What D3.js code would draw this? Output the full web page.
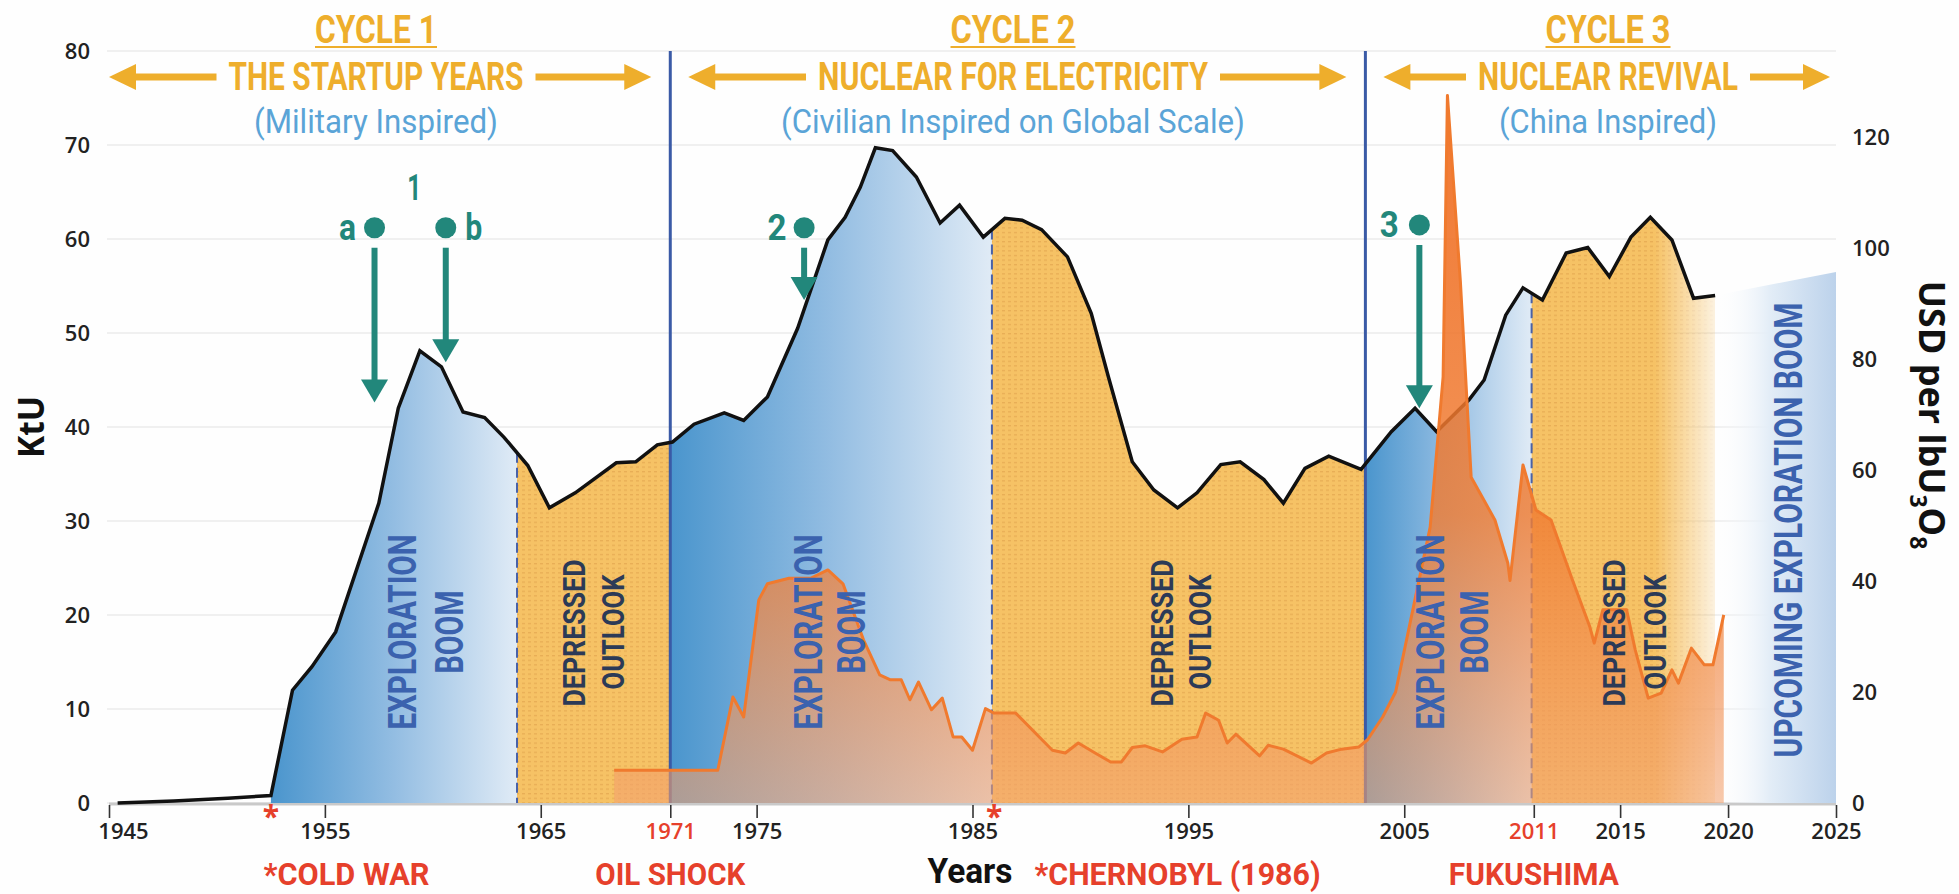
<!DOCTYPE html>
<html><head><meta charset="utf-8">
<script src="https://cdn.jsdelivr.net/npm/d3@7/dist/d3.min.js"></script>
<style>body{margin:0;background:#fff}svg{display:block}</style>
</head><body><svg id="c" width="1959" height="894"></svg>
<script>
// ---------------- DATA ----------------
const prodYears = [1945.4,1948,1950.5,1952.5,1953.5,1954.4,1955.5,1957.5,1958.4,1959.4,1960.4,1961.4,1962.4,1963.3,1964.4,1965.4,1966.6,1968.5,1969.4,1970.4,1971.1,1972.1,1973.5,1974.4,1975.5,1976.9,1978.3,1979.1,1979.8,1980.5,1981.3,1982.4,1983.5,1984.4,1985.5,1986.5,1987.3,1988.2,1989.4,1990.5,1991.3,1992.4,1993.4,1994.5,1995.4,1996.5,1997.4,1998.5,1999.4,2000.4,2001.5,2003.0,2004.4,2005.5,2006.5,2008.0,2008.7,2009.7,2010.5,2011.4,2012.5,2013.5,2014.5,2015.5,2016.4,2017.4,2018.4,2019.4];
const prodKtU = [0,0.2,0.5,0.8,12.0,14.5,18.2,31.9,42.0,48.1,46.4,41.6,41.0,38.9,35.9,31.4,33.0,36.2,36.3,38.1,38.4,40.3,41.5,40.7,43.2,50.5,59.9,62.3,65.5,69.7,69.4,66.6,61.7,63.6,60.2,62.2,62.0,61.0,58.1,52.1,45.3,36.3,33.3,31.4,33.0,36.0,36.3,34.4,31.9,35.6,36.9,35.5,39.5,42.0,39.5,42.9,45.0,51.9,54.8,53.5,58.5,59.1,56.0,60.2,62.3,59.9,53.7,54.0];
const priceYears = [1968.4,1973.2,1973.9,1974.4,1975.1,1975.5,1976.5,1977.5,1978.3,1979.0,1979.95,1980.7,1981.2,1981.7,1982.1,1982.5,1983.1,1983.6,1984.1,1984.5,1985.0,1985.6,1986.0,1987.0,1988.7,1989.3,1989.9,1990.6,1991.4,1991.9,1992.4,1993.0,1993.8,1994.7,1995.4,1995.8,1996.4,1996.8,1997.2,1998.3,1998.7,1999.4,2000.7,2001.4,2002.1,2002.9,2003.3,2004.0,2004.6,2005.3,2006.2,2006.8,2007.0,2007.6,2008.1,2008.5,2009.2,2009.8,2009.9,2010.5,2011.1,2011.8,2012.8,2013.6,2013.8,2014.2,2015.3,2015.7,2016.3,2016.9,2017.4,2017.7,2018.3,2018.9,2019.3,2019.8];
const priceUSD = [5.9,5.9,19.1,15.5,36.6,39.5,40.5,40.5,42.0,39.5,29.4,23.1,22.2,22.2,18.6,21.8,16.8,18.9,11.9,11.9,9.5,17.0,16.2,16.2,9.5,9.0,10.8,9.2,7.4,7.4,10.0,10.3,9.2,11.5,11.9,16.2,14.9,10.8,12.4,8.5,10.4,9.7,7.2,9.0,9.7,10.1,11.4,15.5,20.0,33.0,49.7,76.8,127.5,94.0,58.7,55.9,51.0,43.2,40.1,60.9,52.8,51.0,40.1,31.7,28.8,34.8,34.8,27.6,18.9,19.8,24.0,21.6,27.9,24.9,24.9,33.9];
const upcomingYears = [2019.4, 2025];
const upcomingKtU = [54.0, 56.5];
const xTickYears = [1945,1955,1965,1971,1975,1985,1995,2005,2011,2015,2020,2025];
const redTickYears = [1971, 2011];
const leftTicks = [0,10,20,30,40,50,60,70,80];
const rightTicks = [0,20,40,60,80,100,120];
const cycleStarts = [1945, 1971, 2003.2];
const cycleEnd = 2025;
const phaseSplits = [1963.9, 1985.9, 2010.9];
const boomStarts = [1952.5, 1971, 2003.2];
const depressedEnds = [1971, 2003.2, 2019.4];
const cycleTitles = ['CYCLE 1','CYCLE 2','CYCLE 3'];
const cycleNames = ['THE STARTUP YEARS','NUCLEAR FOR ELECTRICITY','NUCLEAR REVIVAL'];
const cycleSubtitles = ['(Military Inspired)','(Civilian Inspired on Global Scale)','(China Inspired)'];
const eventLabels = ['*COLD WAR','OIL SHOCK','*CHERNOBYL (1986)','FUKUSHIMA'];
const eventYears = [1956.0, 1971.0, 1994.5, 2011.0];
const asteriskYears = [1952.5, 1986];
const markerLabels = ['a','b','2','3'];
const markerYears = [1957.3, 1960.6, 1977.2, 2005.7];
const markerTopKtU = [61.2, 61.2, 61.2, 61.5];
const markerTipKtU = [42.6, 46.9, 53.5, 42.0];

// ---------------- LAYOUT ----------------
const svg = d3.select('#c');
const x = d3.scaleLinear().domain([1945, 2025]).range([109, 1836]);
const yL = d3.scaleLinear().domain([0, 80]).range([803, 51]);
const yR = d3.scaleLinear().domain([0, 135.5]).range([803, 51]);
const COND = "Roboto, 'Liberation Sans', Arial, sans-serif";
const GOLD = '#eeae2c', BLUE_T = '#5aa4d7', TEAL = '#22877b', RED = '#e6402b';
const NAVY = '#3b62ae', DARK = '#2c3a57';

svg.append('rect').attr('width',1959).attr('height',894).attr('fill','#fefefe');
const defs = svg.append('defs');

const prod = prodYears.map((yr,i)=>({yr, v: prodKtU[i]}));
const price = priceYears.map((yr,i)=>({yr, v: priceUSD[i]}));
const upcoming = upcomingYears.map((yr,i)=>({yr, v: upcomingKtU[i]}));
function prodAt(yr){
  for (let i=1;i<prod.length;i++){ if (prod[i].yr>=yr){ const a=prod[i-1], b=prod[i]; return a.v+(b.v-a.v)*(yr-a.yr)/(b.yr-a.yr);} }
  return prod[prod.length-1].v;
}

function text(parent, str, o){
  const t = parent.append('text')
    .attr('transform', `translate(${o.x},${o.y}) rotate(${o.rotate||0})`)
    .attr('text-anchor', o.anchor||'middle')
    .attr('font-family', o.family||COND)
    .attr('font-size', o.size)
    .attr('font-weight', o.weight||700)
    .attr('fill', o.fill).text(str);
  if (o.len) t.attr('textLength', o.len).attr('lengthAdjust','spacingAndGlyphs');
  return t;
}

// gridlines
svg.append('g').selectAll('line').data(leftTicks).join('line')
  .attr('x1', 107).attr('x2', x(2025)).attr('y1', d=>yL(d)).attr('y2', d=>yL(d))
  .attr('stroke', '#ebebeb').attr('stroke-width', 1.5);

// patterns & gradients
const pat = defs.append('pattern').attr('id','dots').attr('width',6).attr('height',4.6).attr('patternUnits','userSpaceOnUse');
pat.append('rect').attr('width',6).attr('height',4.6).attr('fill','#f6c265');
pat.append('rect').attr('x',0).attr('y',2).attr('width',3).attr('height',1.1).attr('fill','#d49440').attr('opacity',0.5);

boomStarts.forEach((s,i)=>{
  const g = defs.append('linearGradient').attr('id','boom'+i).attr('gradientUnits','userSpaceOnUse')
    .attr('x1', x(s)).attr('x2', x(phaseSplits[i])).attr('y1',0).attr('y2',0);
  g.append('stop').attr('offset',0).attr('stop-color','#4a95cd');
  g.append('stop').attr('offset',0.5).attr('stop-color','#93bde2');
  g.append('stop').attr('offset',1).attr('stop-color','#e0ebf6');
});
const fg = defs.append('linearGradient').attr('id','fadeG').attr('gradientUnits','userSpaceOnUse')
  .attr('x1', x(2016.6)).attr('x2', x(2020.1)).attr('y1',0).attr('y2',0);
fg.append('stop').attr('offset',0).attr('stop-color','#fff');
fg.append('stop').attr('offset',1).attr('stop-color','#000');
defs.append('mask').attr('id','fadeM').append('rect').attr('width',1959).attr('height',894).attr('fill','url(#fadeG)');

const ug = defs.append('linearGradient').attr('id','upG').attr('gradientUnits','userSpaceOnUse')
  .attr('x1', x(upcomingYears[0])).attr('x2', x(2025)).attr('y1',0).attr('y2',0);
ug.append('stop').attr('offset',0).attr('stop-color','#ffffff').attr('stop-opacity',0);
ug.append('stop').attr('offset',0.45).attr('stop-color','#e3edf7').attr('stop-opacity',1);
ug.append('stop').attr('offset',1).attr('stop-color','#bcd2eb').attr('stop-opacity',1);

const og = defs.append('linearGradient').attr('id','orangeG').attr('gradientUnits','userSpaceOnUse')
  .attr('x1',0).attr('x2',0).attr('y1', yR(130)).attr('y2', yR(0));
og.append('stop').attr('offset',0).attr('stop-color','#ef6a1e').attr('stop-opacity',0.92);
og.append('stop').attr('offset',0.6).attr('stop-color','#f07c32').attr('stop-opacity',0.82);
og.append('stop').attr('offset',1).attr('stop-color','#f3a26f').attr('stop-opacity',0.58);

const areaK = d3.area().x(d=>x(d.yr)).y0(yL(0)).y1(d=>yL(d.v));
defs.append('clipPath').attr('id','prodClip').append('path').attr('d', areaK(prod));

// baseline bar
svg.append('line').attr('x1', x(1945)).attr('x2', x(2025)).attr('y1', yL(0)+1).attr('y2', yL(0)+1)
  .attr('stroke','#c9c9c9').attr('stroke-width',3);

// region fills
const fills = svg.append('g').attr('clip-path','url(#prodClip)');
boomStarts.forEach((s,i)=>{
  fills.append('rect').attr('x', x(s)).attr('width', x(phaseSplits[i])-x(s))
    .attr('y', yL(80)).attr('height', yL(0)-yL(80)).attr('fill','url(#boom'+i+')');
  const dr = fills.append('rect').attr('x', x(phaseSplits[i])).attr('width', x(depressedEnds[i])-x(phaseSplits[i]))
    .attr('y', yL(80)).attr('height', yL(0)-yL(80)).attr('fill','url(#dots)');
  if (i===2) dr.attr('mask','url(#fadeM)');
});

// upcoming wedge
svg.append('path').attr('d', areaK(upcoming)).attr('fill','url(#upG)');

// cycle separators and phase dashed lines
svg.append('g').selectAll('line').data(cycleStarts.slice(1)).join('line')
  .attr('x1', d=>x(d)).attr('x2', d=>x(d)).attr('y1', yL(80)).attr('y2', yL(0))
  .attr('stroke','#3a5aa6').attr('stroke-width',3);
svg.append('g').selectAll('line').data(phaseSplits).join('line')
  .attr('x1', d=>x(d)).attr('x2', d=>x(d)).attr('y1', d=>yL(prodAt(d))).attr('y2', yL(0))
  .attr('stroke','#4a62a8').attr('stroke-width',2).attr('stroke-dasharray','10,5');

// black production line
svg.append('path').attr('d', d3.line().x(d=>x(d.yr)).y(d=>yL(d.v))(prod))
  .attr('fill','none').attr('stroke','#111').attr('stroke-width',3.5).attr('stroke-linejoin','miter');

// price area + line
const areaP = d3.area().x(d=>x(d.yr)).y0(yR(0)).y1(d=>yR(d.v));
svg.append('path').attr('d', areaP(price)).attr('fill','url(#orangeG)');
svg.append('path').attr('d', d3.line().x(d=>x(d.yr)).y(d=>yR(d.v))(price))
  .attr('fill','none').attr('stroke','#f07a2e').attr('stroke-width',3).attr('stroke-linejoin','round');

// axes
const xa = svg.append('g').attr('transform',`translate(0,${yL(0)+2})`)
  .call(d3.axisBottom(x).tickValues(xTickYears).tickSize(13).tickFormat(d3.format('d')));
xa.select('.domain').remove();
xa.selectAll('.tick line').attr('stroke','#333').attr('stroke-width',1.6);
xa.selectAll('.tick text').attr('y',34).attr('dy',0)
  .attr('font-family',"'Open Sans', sans-serif").attr('font-size',22).attr('font-weight',600)
  .attr('fill', d=> redTickYears.includes(d) ? RED : '#222')
  .attr('dx', d=> d===1945 ? 14 : 0);

const la = svg.append('g').attr('transform',`translate(${x(1945)},0)`)
  .call(d3.axisLeft(yL).tickValues(leftTicks).tickSize(0).tickPadding(19));
la.select('.domain').remove();
la.selectAll('text').attr('font-family',"'Open Sans', sans-serif").attr('font-size',22).attr('font-weight',600).attr('fill','#222');

const ra = svg.append('g').attr('transform',`translate(${x(2025)},0)`)
  .call(d3.axisRight(yR).tickValues(rightTicks).tickSize(0).tickPadding(16));
ra.select('.domain').remove();
ra.selectAll('text').attr('font-family',"'Open Sans', sans-serif").attr('font-size',22).attr('font-weight',600).attr('fill','#222');

// axis titles
text(svg, 'KtU', {x: 44, y: 427, size: 36, rotate: -90, fill: '#111', family: "'Open Sans', sans-serif", len: 62});
const ut = svg.append('text').attr('transform','translate(1919,415) rotate(90)').attr('text-anchor','middle')
  .attr('font-family',"'Open Sans', sans-serif").attr('font-size',36).attr('font-weight',700).attr('fill','#111');
ut.append('tspan').text('USD per lbU');
ut.append('tspan').attr('font-size',23).attr('dy',9).text('3');
ut.append('tspan').attr('dy',-9).text('O');
ut.append('tspan').attr('font-size',23).attr('dy',9).text('8');
text(svg, 'Years', {x: 970, y: 883, size: 35, fill: '#111', len: 85});

// region labels (rotated)
function vlabel(str, cx, cy, size, len, fill){
  text(svg, str, {x: cx + size*0.36, y: cy, size, rotate: -90, fill, len});
}
const boomLabelYears = [[1958.6,1960.75],[1977.4,1979.4],[2006.2,2008.25]];
const depLabelYears = [[1966.5,1968.3],[1993.75,1995.5],[2014.7,2016.6]];
boomLabelYears.forEach(p=>{ vlabel('EXPLORATION', x(p[0]), 632, 38, 195, NAVY); vlabel('BOOM', x(p[1]), 632, 38, 83, NAVY); });
depLabelYears.forEach(p=>{ vlabel('DEPRESSED', x(p[0]), 633, 32, 147, DARK); vlabel('OUTLOOK', x(p[1]), 632, 32, 115, DARK); });
vlabel('UPCOMING EXPLORATION BOOM', x(2022.8), 530, 38, 455, NAVY);

// cycle headers
const titleW = [122,125,125], nameW = [295,390,260], subW = [244,464,218];
const centers = [376, 1013, 1608];
cycleTitles.forEach((t,i)=>{
  const cx = centers[i];
  text(svg, t, {x: cx, y: 43, size: 39, fill: GOLD, len: titleW[i]});
  svg.append('line').attr('x1', cx-titleW[i]/2).attr('x2', cx+titleW[i]/2).attr('y1',47).attr('y2',47)
    .attr('stroke',GOLD).attr('stroke-width',2.2);
  text(svg, cycleNames[i], {x: cx, y: 90, size: 38, fill: GOLD, len: nameW[i]});
  text(svg, cycleSubtitles[i], {x: cx, y: 133, size: 33, weight: 400, fill: BLUE_T, len: subW[i]});
  const left = x(cycleStarts[i]) + (i===0 ? 0 : 18);
  const right = (i<2 ? x(cycleStarts[i+1]) - 19 : x(cycleEnd) - 6);
  const tl = cx - nameW[i]/2 - 12, tr = cx + nameW[i]/2 + 12;
  const ay = 77;
  const ag = svg.append('g').attr('fill',GOLD);
  ag.append('rect').attr('x', left+20).attr('y', ay-3.5).attr('width', tl-left-20).attr('height',7);
  ag.append('path').attr('d', `M${left},${ay} L${left+27},${ay-13} L${left+27},${ay+13} Z`);
  ag.append('rect').attr('x', tr).attr('y', ay-3.5).attr('width', right-20-tr).attr('height',7);
  ag.append('path').attr('d', `M${right},${ay} L${right-27},${ay-13} L${right-27},${ay+13} Z`);
});

// bottom events
const eventW = [166,150,286,170];
eventLabels.forEach((t,i)=> text(svg, t, {x: x(eventYears[i]), y: 885, size: 32, fill: RED, len: eventW[i]}));
asteriskYears.forEach(yr=> text(svg, '*', {x: x(yr), y: 827, size: 30, fill: RED, family: "'Open Sans', sans-serif"}));

// markers
const mk = svg.append('g');
markerLabels.forEach((lab,i)=>{
  const mx = x(markerYears[i]), top = yL(markerTopKtU[i]), tip = yL(markerTipKtU[i]);
  mk.append('circle').attr('cx', mx).attr('cy', top).attr('r', 10.5).attr('fill', TEAL);
  mk.append('line').attr('x1', mx).attr('x2', mx).attr('y1', top+20).attr('y2', tip-20)
    .attr('stroke', TEAL).attr('stroke-width', 6);
  mk.append('path').attr('d', `M${mx},${tip} L${mx-13.5},${tip-23} L${mx+13.5},${tip-23} Z`).attr('fill', TEAL);
  const dx = lab==='b' ? 28 : (lab==='3' ? -30 : -27);
  text(mk, lab, {x: mx+dx, y: top+12, size: 37, fill: TEAL, len: lab.match(/[ab]/) ? 17 : 19});
});
text(mk, '1', {x: (x(markerYears[0])+x(markerYears[1]))/2 + 4, y: 200, size: 37, fill: TEAL, len: 14});
</script></body></html>
